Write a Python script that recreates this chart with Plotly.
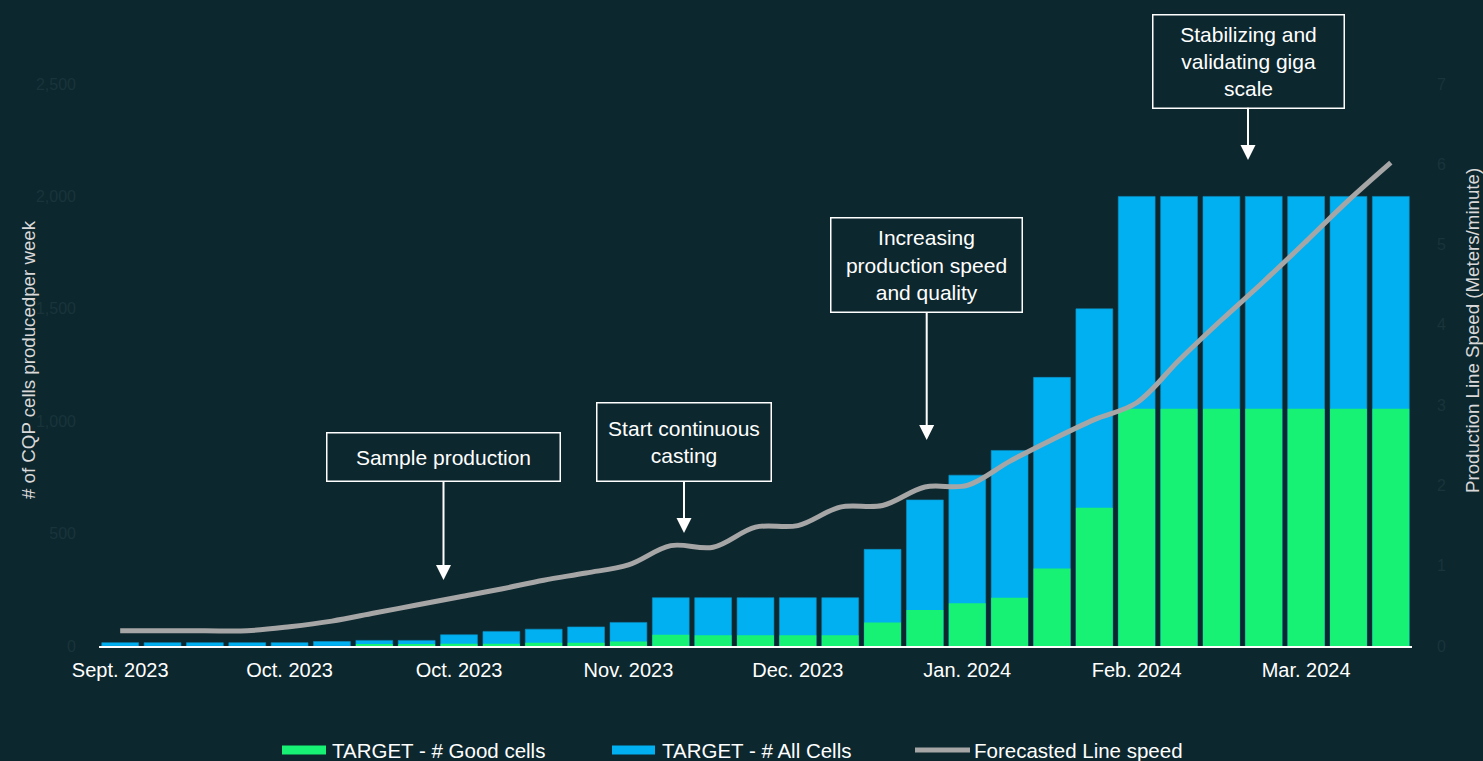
import plotly.graph_objects as go

# ---------------- data ----------------
weeks = ["2023-09-04", "2023-09-11", "2023-09-18", "2023-09-25", "2023-10-02",
         "2023-10-09", "2023-10-16", "2023-10-23", "2023-10-30", "2023-11-06",
         "2023-11-13", "2023-11-20", "2023-11-27", "2023-12-04", "2023-12-11",
         "2023-12-18", "2023-12-25", "2024-01-01", "2024-01-08", "2024-01-15",
         "2024-01-22", "2024-01-29", "2024-02-05", "2024-02-12", "2024-02-19",
         "2024-02-26", "2024-03-04", "2024-03-11", "2024-03-18", "2024-03-25",
         "2024-04-01"]

all_cells = [15, 15, 15, 15, 15, 20, 25, 25, 50, 65, 75, 85, 105, 215, 215,
             215, 215, 215, 430, 650, 760, 870, 1195, 1500, 2000, 2000, 2000,
             2000, 2000, 2000, 2000]

good_cells = [0, 0, 0, 0, 0, 0, 5, 5, 10, 10, 15, 15, 20, 50, 48,
              48, 48, 48, 105, 160, 190, 215, 345, 615, 1055, 1055, 1055,
              1055, 1055, 1055, 1055]

line_speed = [0.19, 0.19, 0.19, 0.19, 0.24, 0.31, 0.41, 0.51, 0.61, 0.71,
              0.82, 0.91, 1.01, 1.25, 1.23, 1.48, 1.50, 1.73, 1.75, 1.98,
              2.00, 2.30, 2.57, 2.82, 3.03, 3.56, 4.06, 4.54, 5.04, 5.55, 6.02]

tick_weeks = ["2023-09-04", "2023-10-02", "2023-10-30", "2023-11-27",
              "2023-12-25", "2024-01-22", "2024-02-19", "2024-03-18"]
tick_labels = ["Sept. 2023", "Oct. 2023", "Oct. 2023", "Nov. 2023",
               "Dec. 2023", "Jan. 2024", "Feb. 2024", "Mar. 2024"]

left_ticks = [0, 500, 1000, 1500, 2000, 2500]
right_ticks = [0, 1, 2, 3, 4, 5, 6, 7]

# ---------------- style ----------------
BG = "#0d272e"
GREEN = "#17f275"
BLUE = "#00b0f0"
GRAY = "#a6a6a6"
FAINT = "#19343b"
FONT = "Liberation Sans, Arial, sans-serif"

W, H = 1483, 761
ML, MR, MT, MB = 99, 71, 84, 115
PW = W - ML - MR
PH = H - MT - MB


def px(xp):
    return (xp - ML) / PW


def py(yp):
    return (H - MB - yp) / PH


fig = go.Figure()

fig.add_trace(go.Bar(
    x=weeks, y=all_cells, name="TARGET - # All Cells",
    marker=dict(color=BLUE, line=dict(color="#0b8fc2", width=0.6)),
    showlegend=False,
))
fig.add_trace(go.Bar(
    x=weeks, y=good_cells, name="TARGET - # Good cells",
    marker=dict(color=GREEN, line=dict(width=0)),
    showlegend=False,
))
fig.add_trace(go.Scatter(
    x=weeks, y=line_speed, name="Forecasted Line speed", yaxis="y2",
    mode="lines", line=dict(color=GRAY, width=5, shape="spline", smoothing=1),
    showlegend=False,
))

fig.update_layout(
    width=W, height=H, autosize=False,
    margin=dict(l=ML, r=MR, t=MT, b=MB),
    paper_bgcolor=BG, plot_bgcolor=BG,
    barmode="overlay", bargap=0.13,
    font=dict(family=FONT, color="white"),
    xaxis=dict(
        type="category", showgrid=False, zeroline=False,
        showline=True, linecolor="white", linewidth=2,
        tickmode="array", tickvals=tick_weeks, ticktext=tick_labels,
        tickfont=dict(size=20, color="white"), ticks="", ticklabelstandoff=5,
    ),
    yaxis=dict(
        range=[0, 2500], tickvals=left_ticks, tickformat=",",
        showgrid=False, zeroline=False, showline=False,
        tickfont=dict(size=16, color=FAINT), ticklabelstandoff=22,
    ),
    yaxis2=dict(
        range=[0, 7], tickvals=right_ticks, overlaying="y", side="right",
        showgrid=False, zeroline=False, showline=False,
        tickfont=dict(size=16, color=FAINT), ticklabelstandoff=24,
    ),
)

annotations = []
# axis titles
annotations.append(dict(
    x=px(28), y=py(360), xref="paper", yref="paper", showarrow=False,
    text="# of CQP cells producedper week", textangle=-90,
    font=dict(size=18.7, color="#d9d9d9"), xanchor="center", yanchor="middle",
))
annotations.append(dict(
    x=px(1472), y=py(331), xref="paper", yref="paper", showarrow=False,
    text="Production Line Speed (Meters/minute)", textangle=-90,
    font=dict(size=18.7, color="#d9d9d9"), xanchor="center", yanchor="middle",
))

# callouts: (tip x, tip y, box center y, box w, box h, text)
callouts = [
    (443.5, 580, 457, 235, 50, "Sample production"),
    (684, 533, 442, 176, 80, "Start continuous<br>casting"),
    (926.7, 440, 265, 193, 96, "Increasing<br>production speed<br>and quality"),
    (1248, 160, 61, 193, 95, "Stabilizing and<br>validating giga<br>scale"),
]
for tx, ty, cy, bw, bh, txt in callouts:
    annotations.append(dict(
        x=px(tx), y=py(ty), xref="paper", yref="paper",
        ax=0, ay=cy - ty, axref="pixel", ayref="pixel",
        text=txt, showarrow=True, arrowhead=2, arrowsize=1.5, arrowwidth=2,
        arrowcolor="white", bordercolor="white", borderwidth=1.5, borderpad=0,
        bgcolor=BG, width=bw - 3, height=bh - 3, align="center",
        font=dict(size=21, color="white"),
    ))

# custom legend
leg_y = 750
legend_items = [
    (282, 326, GREEN, "rect", 330, "TARGET - # Good cells"),
    (612, 655, BLUE, "rect", 660, "TARGET - # All Cells"),
    (915, 970, GRAY, "line", 972, "Forecasted Line speed"),
]
shapes = []
for x0, x1, col, kind, tx, label in legend_items:
    if kind == "rect":
        shapes.append(dict(type="rect", xref="paper", yref="paper",
                           x0=px(x0), x1=px(x1), y0=py(leg_y - 4.5), y1=py(leg_y + 4.5),
                           fillcolor=col, line=dict(width=0)))
    else:
        shapes.append(dict(type="line", xref="paper", yref="paper",
                           x0=px(x0), x1=px(x1), y0=py(leg_y), y1=py(leg_y),
                           line=dict(color=col, width=5)))
    annotations.append(dict(
        x=px(tx), y=py(leg_y), xref="paper", yref="paper", showarrow=False,
        text=label, xanchor="left", yanchor="middle",
        font=dict(size=20.5, color="white"),
    ))

fig.update_layout(annotations=annotations, shapes=shapes)

fig.write_html("out.html")
